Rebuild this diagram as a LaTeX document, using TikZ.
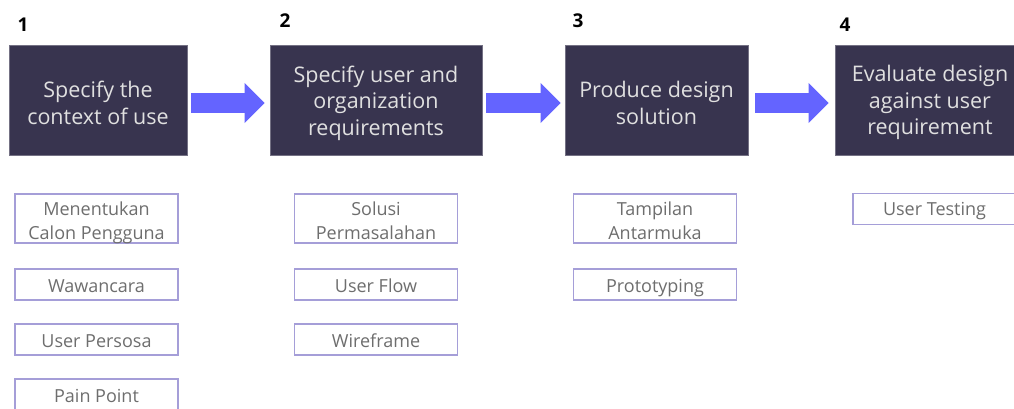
\documentclass[tikz,border=0pt]{standalone}
\usepackage{fontspec}
\setmainfont{Open Sans}
\usetikzlibrary{arrows.meta}
\definecolor{stepfill}{HTML}{38344F}
\definecolor{flowblue}{HTML}{6464FF}
\definecolor{itemline}{HTML}{A59ED8}
\definecolor{itemtext}{HTML}{6E6E6E}
% centred stack of lines, lowered inside its box while keeping its size
\newcommand{\linestack}[2]{\raisebox{-#1}[\height][\depth]{\begin{tabular}{@{}c@{}}#2\end{tabular}}}
\tikzset{
  x=1pt, y=-1pt,
  stagebox/.style={fill=stepfill, draw=stepfill!70!white, line width=0.8pt,
    text=white!88!black, inner sep=0pt,
    font=\fontsize{21.5}{26.5}\selectfont},
  stagenum/.style={font=\bfseries\fontsize{19}{22}\selectfont, text=black, inner sep=0pt},
  itembox/.style={draw=itemline, line width=1.3pt, fill=white, text=itemtext,
    inner sep=0pt, minimum width=163pt,
    font=\fontsize{18}{24}\selectfont},
  flow/.style={line width=20pt, draw=flowblue,
    -{Triangle[length=20pt, width=39pt, fill=flowblue]}}
}
\begin{document}
\begin{tikzpicture}
\useasboundingbox (0,0) rectangle (1014,408);
\clip (0,0) rectangle (1014,408);

% process stages
\node[stagebox, minimum width=178pt, minimum height=110pt] (s1) at (98,100)
  {\linestack{5.5pt}{Specify the\\context of use}};
\node[stagebox, minimum width=212pt, minimum height=110pt] (s2) at (376,100)
  {\linestack{3.5pt}{Specify user and\\organization\\requirements}};
\node[stagebox, minimum width=183pt, minimum height=110pt] (s3) at (656.5,100)
  {\linestack{5.5pt}{Produce design\\solution}};
\node[stagebox, minimum width=190pt, minimum height=110pt] (s4) at (930,100)
  {\linestack{3pt}{Evaluate design\\against user\\requirement}};

% stage numbers
\node[stagenum] (n1) at (23,25) {1};
\node[stagenum] (n2) at (285,21) {2};
\node[stagenum] (n3) at (578,21) {3};
\node[stagenum] (n4) at (845,25) {4};

% arrows between stages
\draw[flow] ([xshift=4pt,yshift=-3pt]s1.east) -- ([xshift=-5pt,yshift=-3pt]s2.west);
\draw[flow] ([xshift=4pt,yshift=-3pt]s2.east) -- ([xshift=-4pt,yshift=-3pt]s3.west);
\draw[flow] ([xshift=7pt,yshift=-3pt]s3.east) -- ([xshift=-6pt,yshift=-3pt]s4.west);

% activities of stage 1
\node[itembox, minimum height=49pt] (a1) at (96.5,218.5) {\linestack{4.5pt}{Menentukan\\Calon Pengguna}};
\node[itembox, minimum height=31pt] (a2) at (96.5,284.5) {\linestack{3.5pt}{Wawancara}};
\node[itembox, minimum height=31pt] (a3) at (96.5,339.5) {\linestack{3.5pt}{User Persosa}};
\node[itembox, minimum height=31pt] (a4) at (96.5,394.5) {\linestack{3.5pt}{Pain Point}};

% activities of stage 2
\node[itembox, minimum height=49pt] (b1) at (376,218.5) {\linestack{4.5pt}{Solusi\\Permasalahan}};
\node[itembox, minimum height=31pt] (b2) at (376,284.5) {\linestack{3.5pt}{User Flow}};
\node[itembox, minimum height=31pt] (b3) at (376,339.5) {\linestack{3.5pt}{Wireframe}};

% activities of stage 3
\node[itembox, minimum height=49pt] (c1) at (655,218.5) {\linestack{4.5pt}{Tampilan\\Antarmuka}};
\node[itembox, minimum height=31pt] (c2) at (655,284.5) {\linestack{3.5pt}{Prototyping}};

% activities of stage 4
\node[itembox, minimum height=31pt] (d1) at (934.5,209) {\linestack{2pt}{User Testing}};
\end{tikzpicture}
\end{document}
